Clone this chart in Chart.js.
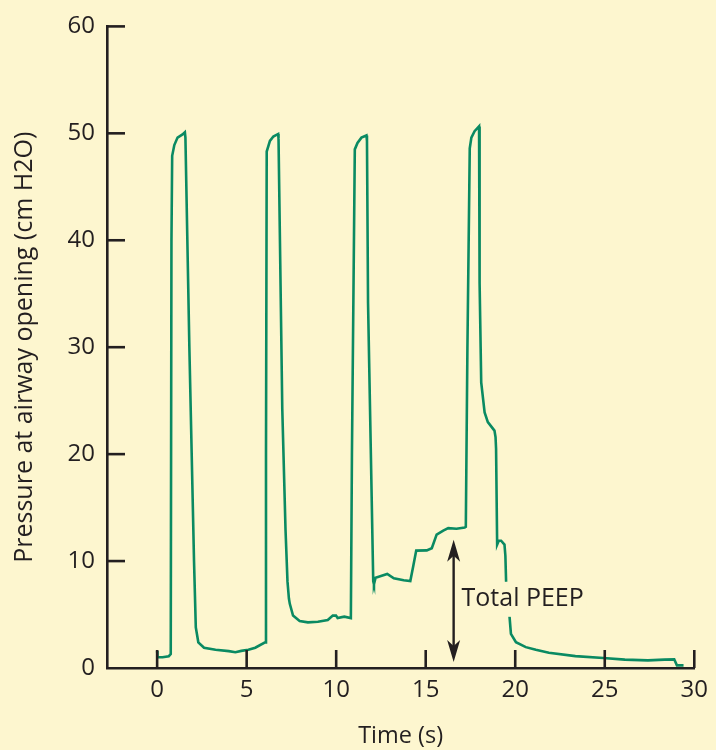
<!DOCTYPE html>
<html><head><meta charset="utf-8">
<script src="https://cdn.jsdelivr.net/npm/chart.js@4.4.1/dist/chart.umd.min.js"></script>
<style>html,body{margin:0;padding:0;background:#fdf6cf;}</style>
</head><body>
<canvas id="c" width="716" height="750"></canvas>
<script>
// ---- data ----
const timeS = [0.00,0.02,0.30,0.65,0.76,0.80,0.84,0.96,1.14,1.42,1.55,1.58,1.80,2.06,2.16,2.30,2.62,3.26,4.00,4.37,4.70,5.10,5.48,6.03,
  6.08,6.12,6.30,6.49,6.76,6.78,6.99,7.17,7.28,7.36,7.41,7.59,7.96,8.42,8.98,9.53,9.81,9.99,10.08,10.45,10.82,
  10.88,11.04,11.19,11.41,11.69,11.72,11.78,12.07,12.11,12.20,12.50,12.85,13.22,13.77,14.14,14.30,14.47,15.06,15.34,15.61,15.98,16.26,16.72,17.18,17.24,
  17.33,17.46,17.55,17.73,17.98,18.00,18.02,18.10,18.29,18.47,18.84,18.90,18.93,18.99,19.08,19.21,19.40,19.45,19.49,19.67,19.76,20.04,20.59,21.15,21.88,23.36,24.92,26.12,27.41,28.33,28.88,29.03,29.40];
const pressure = [1.6,1.0,1.0,1.1,1.3,40.0,47.9,48.9,49.6,49.9,50.1,49.6,30.0,10.0,3.8,2.4,1.9,1.7,1.58,1.48,1.6,1.7,1.9,2.4,
  20.0,48.3,49.3,49.7,49.94,49.5,24.2,12.96,8.1,6.5,6.0,4.9,4.4,4.27,4.33,4.49,4.9,4.9,4.67,4.8,4.67,
  20.0,48.5,49.1,49.6,49.8,49.3,34.1,8.1,7.83,8.44,8.6,8.8,8.38,8.2,8.13,9.5,10.98,11.0,11.2,12.47,12.84,13.08,13.02,13.14,13.2,
  30.0,48.6,49.6,50.2,50.65,50.0,36.0,26.7,23.9,23.0,22.2,21.6,20.5,11.54,11.9,11.9,11.54,10.5,8.1,5.05,3.19,2.41,1.95,1.7,1.43,1.11,0.93,0.78,0.71,0.78,0.81,0.25,0.25];
const xTicks = [0,5,10,15,20,25,30];
const yTicks = [0,10,20,30,40,50,60];
const xTitle = 'Time (s)';
const yTitle = 'Pressure at airway opening (cm H2O)';
const peepLabel = 'Total PEEP';
const peepArrowX = 16.56, peepArrowTop = 12.0, peepArrowBottom = 0.56;
const peepLabelX = 17.0, peepLabelY = 6.47;

const BG = '#fdf6cf', INK = '#231f20', LINE = '#0a8a62';
const FONT = '"Open Sans", sans-serif';

const bgPlugin = {
  id: 'bg',
  beforeDraw(chart) {
    const ctx = chart.ctx;
    ctx.save(); ctx.fillStyle = BG; ctx.fillRect(0, 0, chart.width, chart.height); ctx.restore();
  }
};

function arrowHead(ctx, x, y, dir) {
  ctx.beginPath();
  ctx.moveTo(x, y);
  ctx.lineTo(x - 6.5, y - dir * 22);
  ctx.lineTo(x, y - dir * 16);
  ctx.lineTo(x + 6.5, y - dir * 22);
  ctx.closePath();
  ctx.fill();
}

const decoPlugin = {
  id: 'deco',
  afterDatasetsDraw(chart) {
    const ctx = chart.ctx;
    const xs = chart.scales.x, ys = chart.scales.y;
    ctx.save();
    ctx.strokeStyle = INK; ctx.fillStyle = INK; ctx.lineWidth = 2.6; ctx.lineCap = 'butt';
    const y0 = ys.getPixelForValue(0);
    xs.ticks.forEach(t => {
      const px = xs.getPixelForValue(t.value);
      ctx.beginPath(); ctx.moveTo(px, y0); ctx.lineTo(px, y0 - 18); ctx.stroke();
    });
    const xl = chart.chartArea.left;
    ys.ticks.forEach(t => {
      if (t.value === 0) return;
      const py = ys.getPixelForValue(t.value);
      ctx.beginPath(); ctx.moveTo(xl, py); ctx.lineTo(xl + 18, py); ctx.stroke();
    });
    const lx = xs.getPixelForValue(peepLabelX), ly = ys.getPixelForValue(peepLabelY);
    ctx.font = '25px ' + FONT;
    const w = ctx.measureText(peepLabel).width;
    ctx.fillStyle = BG;
    ctx.fillRect(lx - 3, ly - 17, w + 6, 35);
    ctx.fillStyle = INK;
    ctx.textBaseline = 'middle'; ctx.textAlign = 'left';
    ctx.fillText(peepLabel, lx, ly);
    const ax = xs.getPixelForValue(peepArrowX);
    const at = ys.getPixelForValue(peepArrowTop), ab = ys.getPixelForValue(peepArrowBottom);
    ctx.lineWidth = 2.4;
    ctx.beginPath(); ctx.moveTo(ax, at + 12); ctx.lineTo(ax, ab - 12); ctx.stroke();
    arrowHead(ctx, ax, at, -1);
    arrowHead(ctx, ax, ab, 1);
    ctx.restore();
  }
};

new Chart(document.getElementById('c'), {
  type: 'line',
  data: {
    datasets: [{
      data: timeS.map((t, i) => ({ x: t, y: pressure[i] })),
      borderColor: LINE, borderWidth: 2.6, pointRadius: 0, tension: 0, fill: false
    }]
  },
  options: {
    responsive: false, animation: false, devicePixelRatio: 1,
    layout: { padding: { top: 21, right: 16, left: 0, bottom: 0 }, autoPadding: false },
    plugins: { legend: { display: false }, tooltip: { enabled: false } },
    scales: {
      x: {
        type: 'linear', min: -2.8, max: 30,
        afterBuildTicks: s => { s.ticks = xTicks.map(v => ({ value: v })); },
        afterFit: s => { s.height = 82; },
        grid: { display: true, drawOnChartArea: false, drawTicks: false },
        border: { display: true, color: INK, width: 2.6 },
        ticks: { color: INK, font: { family: FONT, size: 24 }, padding: 8, maxRotation: 0 },
        title: { display: true, text: xTitle, color: INK, font: { family: FONT, size: 23.5 }, padding: { top: 0, bottom: 0 } }
      },
      y: {
        type: 'linear', min: 0, max: 60,
        afterBuildTicks: s => { s.ticks = yTicks.map(v => ({ value: v })); },
        afterFit: s => { s.width = 107; },
        grid: { display: true, drawOnChartArea: false, drawTicks: false },
        border: { display: true, color: INK, width: 2.6 },
        ticks: { color: INK, font: { family: FONT, size: 24 }, padding: 12 },
        title: { display: true, text: yTitle, color: INK, font: { family: FONT, size: 25 }, padding: { top: 10, bottom: 0 } }
      }
    }
  },
  plugins: [bgPlugin, decoPlugin]
});
</script>
</body></html>
